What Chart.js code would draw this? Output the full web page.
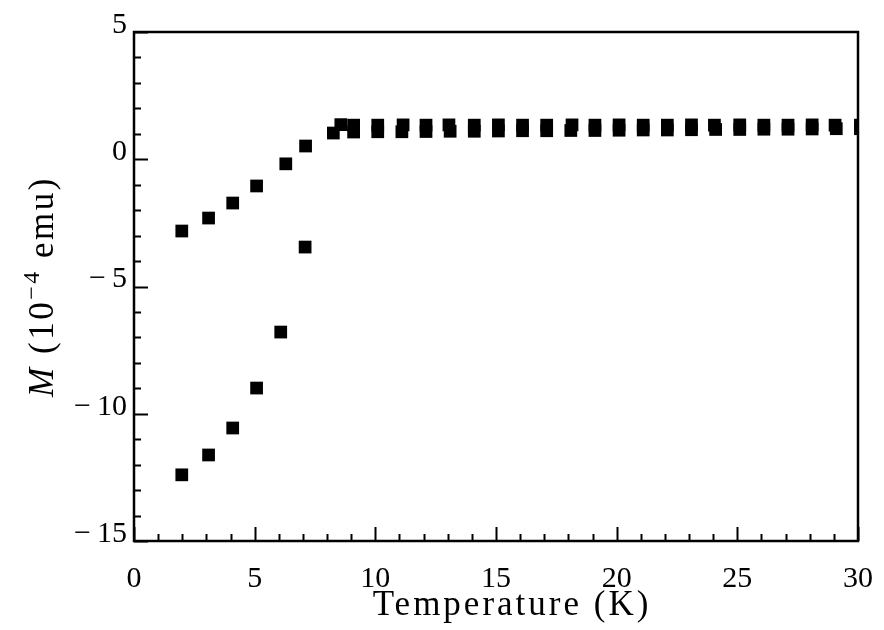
<!DOCTYPE html>
<html>
<head>
<meta charset="utf-8">
<script src="https://cdn.jsdelivr.net/npm/chart.js@4/dist/chart.umd.min.js"></script>
<style>
  html, body { margin: 0; padding: 0; background: #fff; }
</style>
</head>
<body>
<canvas id="magChart" width="884" height="630"></canvas>
<script>
// zero-field-cooled branch (lower curve)
const zfcT = [1.98, 3.09, 4.09, 5.08, 6.08, 7.09, 8.26, 9.1, 10.1, 11.1, 12.1, 13.1, 14.1, 15.1, 16.1, 17.1, 18.1, 19.1, 20.1, 21.1, 22.1, 23.1, 24.1, 25.1, 26.1, 27.1, 28.1, 29.1, 30.1];
const zfcM = [-12.40, -11.62, -10.56, -8.99, -6.79, -3.45, 1.03, 1.07, 1.08, 1.08, 1.09, 1.10, 1.10, 1.11, 1.12, 1.12, 1.13, 1.13, 1.14, 1.15, 1.15, 1.16, 1.17, 1.17, 1.18, 1.18, 1.19, 1.20, 1.20];

// field-cooled branch (upper curve)
const fcT = [1.98, 3.09, 4.09, 5.08, 6.29, 7.11, 8.57, 9.1, 10.1, 11.15, 12.1, 13.05, 14.1, 15.1, 16.1, 17.1, 18.15, 19.1, 20.1, 21.1, 22.1, 23.1, 24.05, 25.1, 26.1, 27.1, 28.1, 29.05, 30.1];
const fcM = [-2.82, -2.31, -1.72, -1.05, -0.18, 0.52, 1.36, 1.34, 1.34, 1.35, 1.34, 1.35, 1.34, 1.35, 1.34, 1.34, 1.35, 1.34, 1.35, 1.34, 1.34, 1.35, 1.34, 1.35, 1.34, 1.34, 1.35, 1.34, 1.34];

const xTicks = [0, 5, 10, 15, 20, 25, 30];
const yTicks = [-15, -10, -5, 0, 5];
const xMinorStep = 1;
const yMinorStep = 1;

const serif = 'Liberation Serif';

function toPoints(xs, ys) {
  return xs.map((x, i) => ({ x: x, y: ys[i] }));
}

// frame, inward ticks and axis titles
const framePlugin = {
  id: 'framePlugin',
  afterDraw(chart) {
    const ctx = chart.ctx;
    const a = chart.chartArea;
    const xs = chart.scales.x;
    const ys = chart.scales.y;
    ctx.save();
    ctx.strokeStyle = '#000';
    ctx.lineWidth = 2;
    ctx.beginPath();
    for (let v = xs.min; v <= xs.max + 1e-9; v += xMinorStep) {
      const px = Math.round(xs.getPixelForValue(v)) + 0.5;
      const len = xTicks.includes(v) ? 14 : 7;
      ctx.moveTo(px, a.bottom);
      ctx.lineTo(px, a.bottom - len);
    }
    for (let v = ys.min; v <= ys.max + 1e-9; v += yMinorStep) {
      const py = Math.round(ys.getPixelForValue(v)) + 0.5;
      const len = yTicks.includes(v) ? 14 : 7;
      ctx.moveTo(a.left, py);
      ctx.lineTo(a.left + len, py);
    }
    ctx.stroke();

    ctx.lineWidth = 2.5;
    ctx.strokeRect(a.left, a.top, a.right - a.left, a.bottom - a.top);

    // x title
    ctx.fillStyle = '#000';
    ctx.letterSpacing = '3px';
    ctx.font = '35px "' + serif + '"';
    ctx.textAlign = 'center';
    ctx.textBaseline = 'alphabetic';
    ctx.fillText('Temperature (K)', 512, 615);

    // y title with italic M and superscript
    ctx.letterSpacing = '2.5px';
    const parts = [
      { t: 'M', f: 'italic 35px "' + serif + '"', dy: 0 },
      { t: ' (10', f: '35px "' + serif + '"', dy: 0 },
      { t: '\u22124', f: '24px "' + serif + '"', dy: -14 },
      { t: ' emu)', f: '35px "' + serif + '"', dy: 0 }
    ];
    let total = 0;
    parts.forEach(p => { ctx.font = p.f; p.w = ctx.measureText(p.t).width; total += p.w; });
    ctx.translate(53, (a.top + a.bottom) / 2);
    ctx.rotate(-Math.PI / 2);
    ctx.textAlign = 'left';
    let cx = -total / 2;
    parts.forEach(p => {
      ctx.font = p.f;
      ctx.fillText(p.t, cx, p.dy);
      cx += p.w;
    });
    ctx.restore();
  }
};

const fmt = v => String(v).replace('-', '\u2212\u2009');

new Chart('magChart', {
  type: 'scatter',
  data: {
    datasets: [
      {
        label: 'ZFC',
        data: toPoints(zfcT, zfcM),
        pointStyle: 'rect',
        pointRadius: 9,
        pointHoverRadius: 9,
        pointBorderWidth: 0,
        backgroundColor: '#000',
        borderColor: '#000'
      },
      {
        label: 'FC',
        data: toPoints(fcT, fcM),
        pointStyle: 'rect',
        pointRadius: 9,
        pointHoverRadius: 9,
        pointBorderWidth: 0,
        backgroundColor: '#000',
        borderColor: '#000'
      }
    ]
  },
  options: {
    responsive: false,
    animation: false,
    layout: { padding: { left: 0, top: 32, right: 26, bottom: 0 } },
    plugins: {
      legend: { display: false },
      tooltip: { enabled: false }
    },
    scales: {
      x: {
        type: 'linear',
        min: 0,
        max: 30,
        afterBuildTicks: s => { s.ticks = xTicks.map(v => ({ value: v })); },
        afterFit: s => { s.height = 89; s.paddingLeft = 0; s.paddingRight = 0; },
        grid: { display: false, drawTicks: false },
        border: { display: false },
        ticks: {
          padding: 20,
          color: '#000',
          maxRotation: 0,
          font: { family: serif, size: 30 },
          callback: v => fmt(v)
        }
      },
      y: {
        type: 'linear',
        min: -15,
        max: 5,
        afterBuildTicks: s => { s.ticks = yTicks.map(v => ({ value: v })); },
        afterFit: s => { s.width = 134; s.paddingTop = 0; s.paddingBottom = 0; },
        grid: { display: false, drawTicks: false },
        border: { display: false },
        ticks: {
          padding: 7,
          labelOffset: -7,
          color: '#000',
          font: { family: serif, size: 30 },
          callback: v => fmt(v)
        }
      }
    }
  },
  plugins: [framePlugin]
});
</script>
</body>
</html>
